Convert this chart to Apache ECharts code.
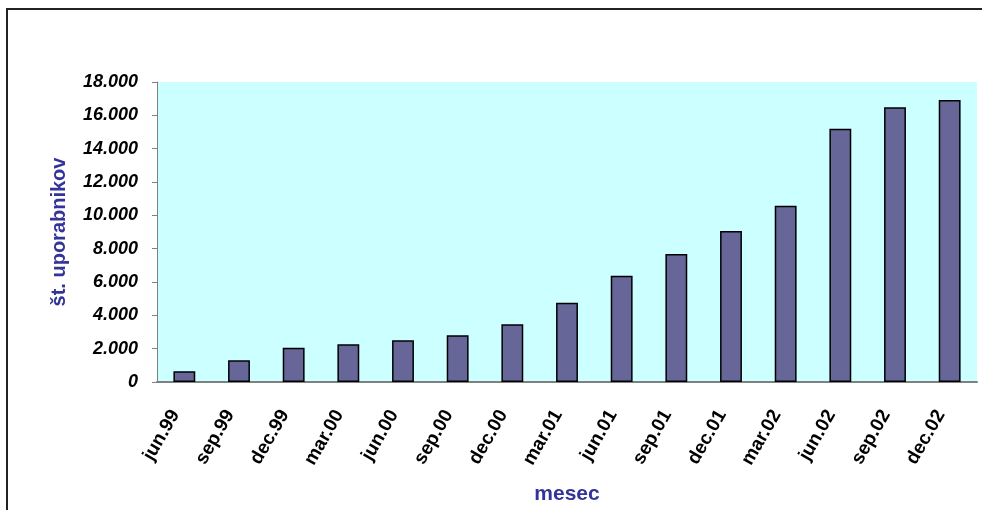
<!DOCTYPE html>
<html>
<head>
<meta charset="utf-8">
<script src="https://cdn.jsdelivr.net/npm/echarts@6/dist/echarts.min.js"></script>
<style>html,body{margin:0;padding:0;background:#fff}#c{width:982px;height:510px}</style>
</head>
<body>
<div id="c"></div>
<script>
var categories = ['jun.99','sep.99','dec.99','mar.00','jun.00','sep.00','dec.00','mar.01','jun.01','sep.01','dec.01','mar.02','jun.02','sep.02','dec.02'];
var users = [650, 1300, 2050, 2260, 2500, 2800, 3460, 4760, 6380, 7680, 9060, 10580, 15200, 16480, 16920];
var yTitle = 'št. uporabnikov';
var xTitle = 'mesec';

var chart = echarts.init(document.getElementById('c'), null, {renderer: 'canvas'});
chart.setOption({
  animation: false,
  backgroundColor: '#ffffff',
  graphic: [{
    type: 'rect', silent: true, z: 100,
    shape: {x: 7, y: 9, width: 1000, height: 600},
    style: {fill: null, stroke: '#222', lineWidth: 2}
  }],
  grid: {left: 157, right: 5, top: 82, bottom: 128, show: true, backgroundColor: '#CCFFFF', borderWidth: 0, containLabel: false, outerBoundsMode: 'none'},
  xAxis: {
    type: 'category',
    data: categories,
    name: xTitle,
    nameLocation: 'middle',
    nameGap: 102,
    nameTextStyle: {color: '#333399', fontWeight: 'bold', fontSize: 21, fontFamily: 'Liberation Sans, Arial, sans-serif'},
    axisLine: {lineStyle: {color: '#808080', width: 2}},
    axisTick: {show: false},
    axisLabel: {rotate: 60, margin: 14, padding: [0, 18, 0, 0], color: '#000', fontWeight: 'bold', fontSize: 19, fontFamily: 'Liberation Sans, Arial, sans-serif', interval: 0}
  },
  yAxis: {
    type: 'value',
    min: 0, max: 18000, interval: 2000,
    name: yTitle,
    nameLocation: 'middle',
    nameGap: 88,
    nameRotate: 90,
    nameTextStyle: {color: '#333399', fontWeight: 'bold', fontSize: 20, fontFamily: 'Liberation Sans, Arial, sans-serif'},
    axisLine: {show: true, lineStyle: {color: '#808080', width: 1}},
    axisTick: {show: true, length: 5, lineStyle: {color: '#808080'}},
    splitLine: {show: false},
    axisLabel: {
      margin: 19, color: '#000', fontWeight: 'bold', fontStyle: 'italic', fontSize: 18,
      fontFamily: 'Liberation Sans, Arial, sans-serif',
      formatter: function (v) { return v === 0 ? '0' : (v / 1000).toFixed(3); }
    }
  },
  series: [{
    type: 'bar',
    data: users,
    barWidth: '40%',
    itemStyle: {color: '#666699', borderColor: '#000', borderWidth: 1.5}
  }]
});
</script>
</body>
</html>
